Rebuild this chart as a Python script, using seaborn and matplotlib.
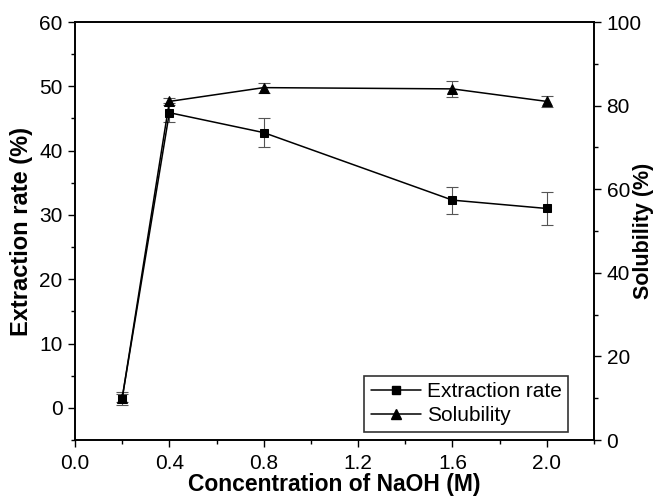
import matplotlib
matplotlib.use("Agg")
import matplotlib.pyplot as plt
import seaborn as sns
import numpy as np
import pandas as pd
from matplotlib.ticker import MultipleLocator
from matplotlib.lines import Line2D

conc = [0.2, 0.4, 0.8, 1.6, 2.0]
extraction = [1.5, 45.9, 42.8, 32.3, 31.0]
extraction_err = [1.0, 1.5, 2.2, 2.1, 2.5]
solubility = [10.0, 81.0, 84.3, 84.0, 81.0]
solubility_err = [1.0, 0.8, 1.2, 2.0, 1.4]

sns.set_style("ticks")
plt.rcParams['font.family'] = ['Liberation Sans', 'DejaVu Sans']
plt.rcParams['text.color'] = 'black'
plt.rcParams['axes.labelcolor'] = 'black'
plt.rcParams['xtick.color'] = 'black'
plt.rcParams['ytick.color'] = 'black'

df = pd.DataFrame({"conc": conc, "ext": extraction, "ext_err": extraction_err,
                   "sol": solubility, "sol_err": solubility_err})

fig = plt.figure(figsize=(6.55, 4.97), dpi=100)
ax1 = fig.add_axes([75/655, 1-440/497, (594-75)/655, (440-22)/497])
ax2 = ax1.twinx()

ax1.errorbar(df["conc"], df["ext"], yerr=df["ext_err"], fmt='none', ecolor='#555555',
             elinewidth=0.8, capsize=4, capthick=0.8, zorder=2)
sns.lineplot(data=df, x="conc", y="ext", ax=ax1, color='black', marker='s', markersize=5.5,
             markeredgecolor='black', linewidth=1.1, zorder=3)
ax2.errorbar(df["conc"], df["sol"], yerr=df["sol_err"], fmt='none', ecolor='#555555',
             elinewidth=0.8, capsize=4, capthick=0.8, zorder=2)
sns.lineplot(data=df, x="conc", y="sol", ax=ax2, color='black', marker='^', markersize=6.5,
             markeredgecolor='black', linewidth=1.1, zorder=3)

ax1.set_xlim(0, 2.2)
ax1.set_ylim(-5, 60)
ax2.set_ylim(0, 100)
ax1.xaxis.set_major_locator(MultipleLocator(0.4))
ax1.xaxis.set_minor_locator(MultipleLocator(0.2))
ax1.yaxis.set_major_locator(MultipleLocator(10))
ax1.yaxis.set_minor_locator(MultipleLocator(5))
ax2.yaxis.set_major_locator(MultipleLocator(20))
ax2.yaxis.set_minor_locator(MultipleLocator(10))
ax1.set_yticks([0, 10, 20, 30, 40, 50, 60])
ax1.xaxis.set_major_formatter(matplotlib.ticker.FormatStrFormatter('%.1f'))

for ax in (ax1, ax2):
    ax.tick_params(which='major', direction='out', length=5, width=1, labelsize=15,
                   colors='black', pad=4)
    ax.tick_params(which='minor', direction='out', length=3, width=1, colors='black')
    for s in ax.spines.values():
        s.set_visible(True)
        s.set_linewidth(1.2)
        s.set_color('black')
ax1.tick_params(axis='x', which='major', pad=5)

ax1.set_xlabel("Concentration of NaOH (M)", fontsize=16.5, fontweight='bold', labelpad=0,
               color='black')
ax1.set_ylabel("Extraction rate (%)", fontsize=17, fontweight='bold', color='black')
ax1.yaxis.set_label_coords(-0.081, 0.5)
ax2.set_ylabel("Solubility (%)", fontsize=15.5, fontweight='bold', rotation=90, color='black')
ax2.yaxis.set_label_coords(1.076, 0.5)

handles = [Line2D([], [], color='black', marker='s', markersize=5.5, linewidth=1.1),
           Line2D([], [], color='black', marker='^', markersize=6.5, linewidth=1.1)]
leg = ax2.legend(handles, ["Extraction rate", "Solubility"], loc='lower right',
                 bbox_to_anchor=(0.95, 0.02), fontsize=15, frameon=True, fancybox=False,
                 edgecolor='black', handlelength=2.4, handletextpad=0.3, borderpad=0.3,
                 labelspacing=0.25, borderaxespad=0)
leg.get_frame().set_linewidth(1.2)

fig.savefig("out.png", dpi=100)
